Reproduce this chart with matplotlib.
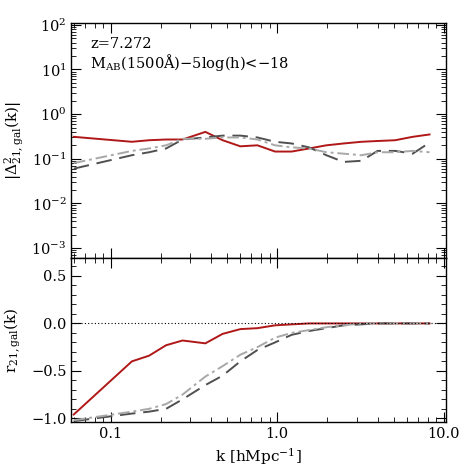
import numpy as np
import matplotlib
matplotlib.use("Agg")
import matplotlib.pyplot as plt
from matplotlib.ticker import FixedLocator, NullFormatter, LogLocator

plt.rcParams["font.family"] = "DejaVu Serif"
plt.rcParams["mathtext.fontset"] = "dejavuserif"

# ─── Data ────────────────────────────────────────────────────────────────────
k = [0.06, 0.134, 0.17, 0.215, 0.27, 0.37, 0.47, 0.6, 0.76, 0.97,
     1.22, 1.55, 1.97, 2.5, 3.2, 4.0, 5.1, 6.5, 8.2]

delta_red = [0.31, 0.24, 0.26, 0.27, 0.27, 0.40, 0.26, 0.19, 0.20, 0.145,
             0.145, 0.17, 0.20, 0.22, 0.24, 0.25, 0.26, 0.31, 0.35]
delta_dash = [0.06, 0.12, 0.14, 0.17, 0.27, 0.30, 0.33, 0.33, 0.30, 0.24,
              0.22, 0.18, 0.12, 0.085, 0.09, 0.15, 0.15, 0.13, 0.23]
delta_dashdot = [0.08, 0.15, 0.17, 0.20, 0.28, 0.28, 0.30, 0.30, 0.27, 0.20,
                 0.18, 0.17, 0.14, 0.13, 0.12, 0.14, 0.14, 0.15, 0.14]

r_red = [-0.96, -0.40, -0.34, -0.23, -0.18, -0.21, -0.11, -0.06, -0.05, -0.02,
         -0.01, 0.0, 0.0, 0.0, 0.0, 0.0, 0.0, 0.0, 0.0]
r_dash = [-1.03, -0.95, -0.93, -0.90, -0.80, -0.65, -0.55, -0.40, -0.28, -0.20,
          -0.12, -0.08, -0.05, -0.02, -0.01, 0.0, 0.0, 0.0, 0.0]
r_dashdot = [-1.02, -0.93, -0.90, -0.85, -0.75, -0.56, -0.45, -0.33, -0.25, -0.15,
             -0.10, -0.07, -0.04, -0.02, 0.0, 0.0, 0.0, 0.0, 0.0]

RED = "#B01818"
DARK = "#505050"
LIGHT = "#A8A8A8"

fig = plt.figure(figsize=(4.69, 4.69), dpi=100)
ax1 = fig.add_axes([0.152, 0.45, 0.799, 0.501])
ax2 = fig.add_axes([0.152, 0.10, 0.799, 0.35], sharex=ax1)

xlim = (0.058, 10.3)

# ─── Top panel ───────────────────────────────────────────────────────────────
ax1.plot(k, delta_red, color=RED, lw=1.4)
ax1.plot(k, delta_dash, color=DARK, lw=1.4, dashes=(8, 4))
ax1.plot(k, delta_dashdot, color=LIGHT, lw=1.4, dashes=(6, 2, 1.5, 2))
ax1.set_xscale("log")
ax1.set_yscale("log")
ax1.set_xlim(*xlim)
ax1.set_ylim(6e-4, 1.1e2)
ax1.set_yticks([1e-3, 1e-2, 1e-1, 1e0, 1e1, 1e2])
ax1.yaxis.set_minor_locator(LogLocator(base=10, subs=np.arange(2, 10), numticks=20))
ax1.yaxis.set_minor_formatter(NullFormatter())
ax1.set_ylabel(r"$|\Delta^2_{\mathrm{21,gal}}(\mathrm{k})|$", fontsize=11, labelpad=4)
ax1.text(0.05, 0.895, "z=7.272", transform=ax1.transAxes, fontsize=10.5)
ax1.text(0.05, 0.81, r"M$_{\mathrm{AB}}$(1500$\mathrm{\AA}$)$-$5log(h)<$-$18",
         transform=ax1.transAxes, fontsize=10.5)
plt.setp(ax1.get_xticklabels(), visible=False)

# ─── Bottom panel ────────────────────────────────────────────────────────────
ax2.plot(k, r_red, color=RED, lw=1.4)
ax2.plot(k, r_dash, color=DARK, lw=1.4, dashes=(8, 4))
ax2.plot(k, r_dashdot, color=LIGHT, lw=1.4, dashes=(6, 2, 1.5, 2))
ax2.axhline(0.0, color="black", lw=0.8, ls=(0, (1, 2)))
ax2.set_ylim(-1.04, 0.69)
ax2.set_yticks([-1.0, -0.5, 0.0, 0.5])
ax2.yaxis.set_minor_locator(FixedLocator(np.arange(-1.0, 0.7, 0.1)))
ax2.set_ylabel(r"r$_{\mathrm{21,gal}}$(k)", fontsize=11, labelpad=6)
ax2.set_xlabel(r"k [hMpc$^{-1}$]", fontsize=11)
ax2.set_xticks([0.1, 1.0, 10.0])
ax2.set_xticklabels(["0.1", "1.0", "10.0"])
ax2.xaxis.set_minor_formatter(NullFormatter())

for ax in (ax1, ax2):
    ax.tick_params(which="both", direction="in", top=True, right=True, labelsize=10.5)
    ax.tick_params(which="major", length=7)
    ax.tick_params(which="minor", length=3.5)
    for s in ax.spines.values():
        s.set_linewidth(1.0)

fig.savefig("out.png", dpi=100, facecolor="white")
